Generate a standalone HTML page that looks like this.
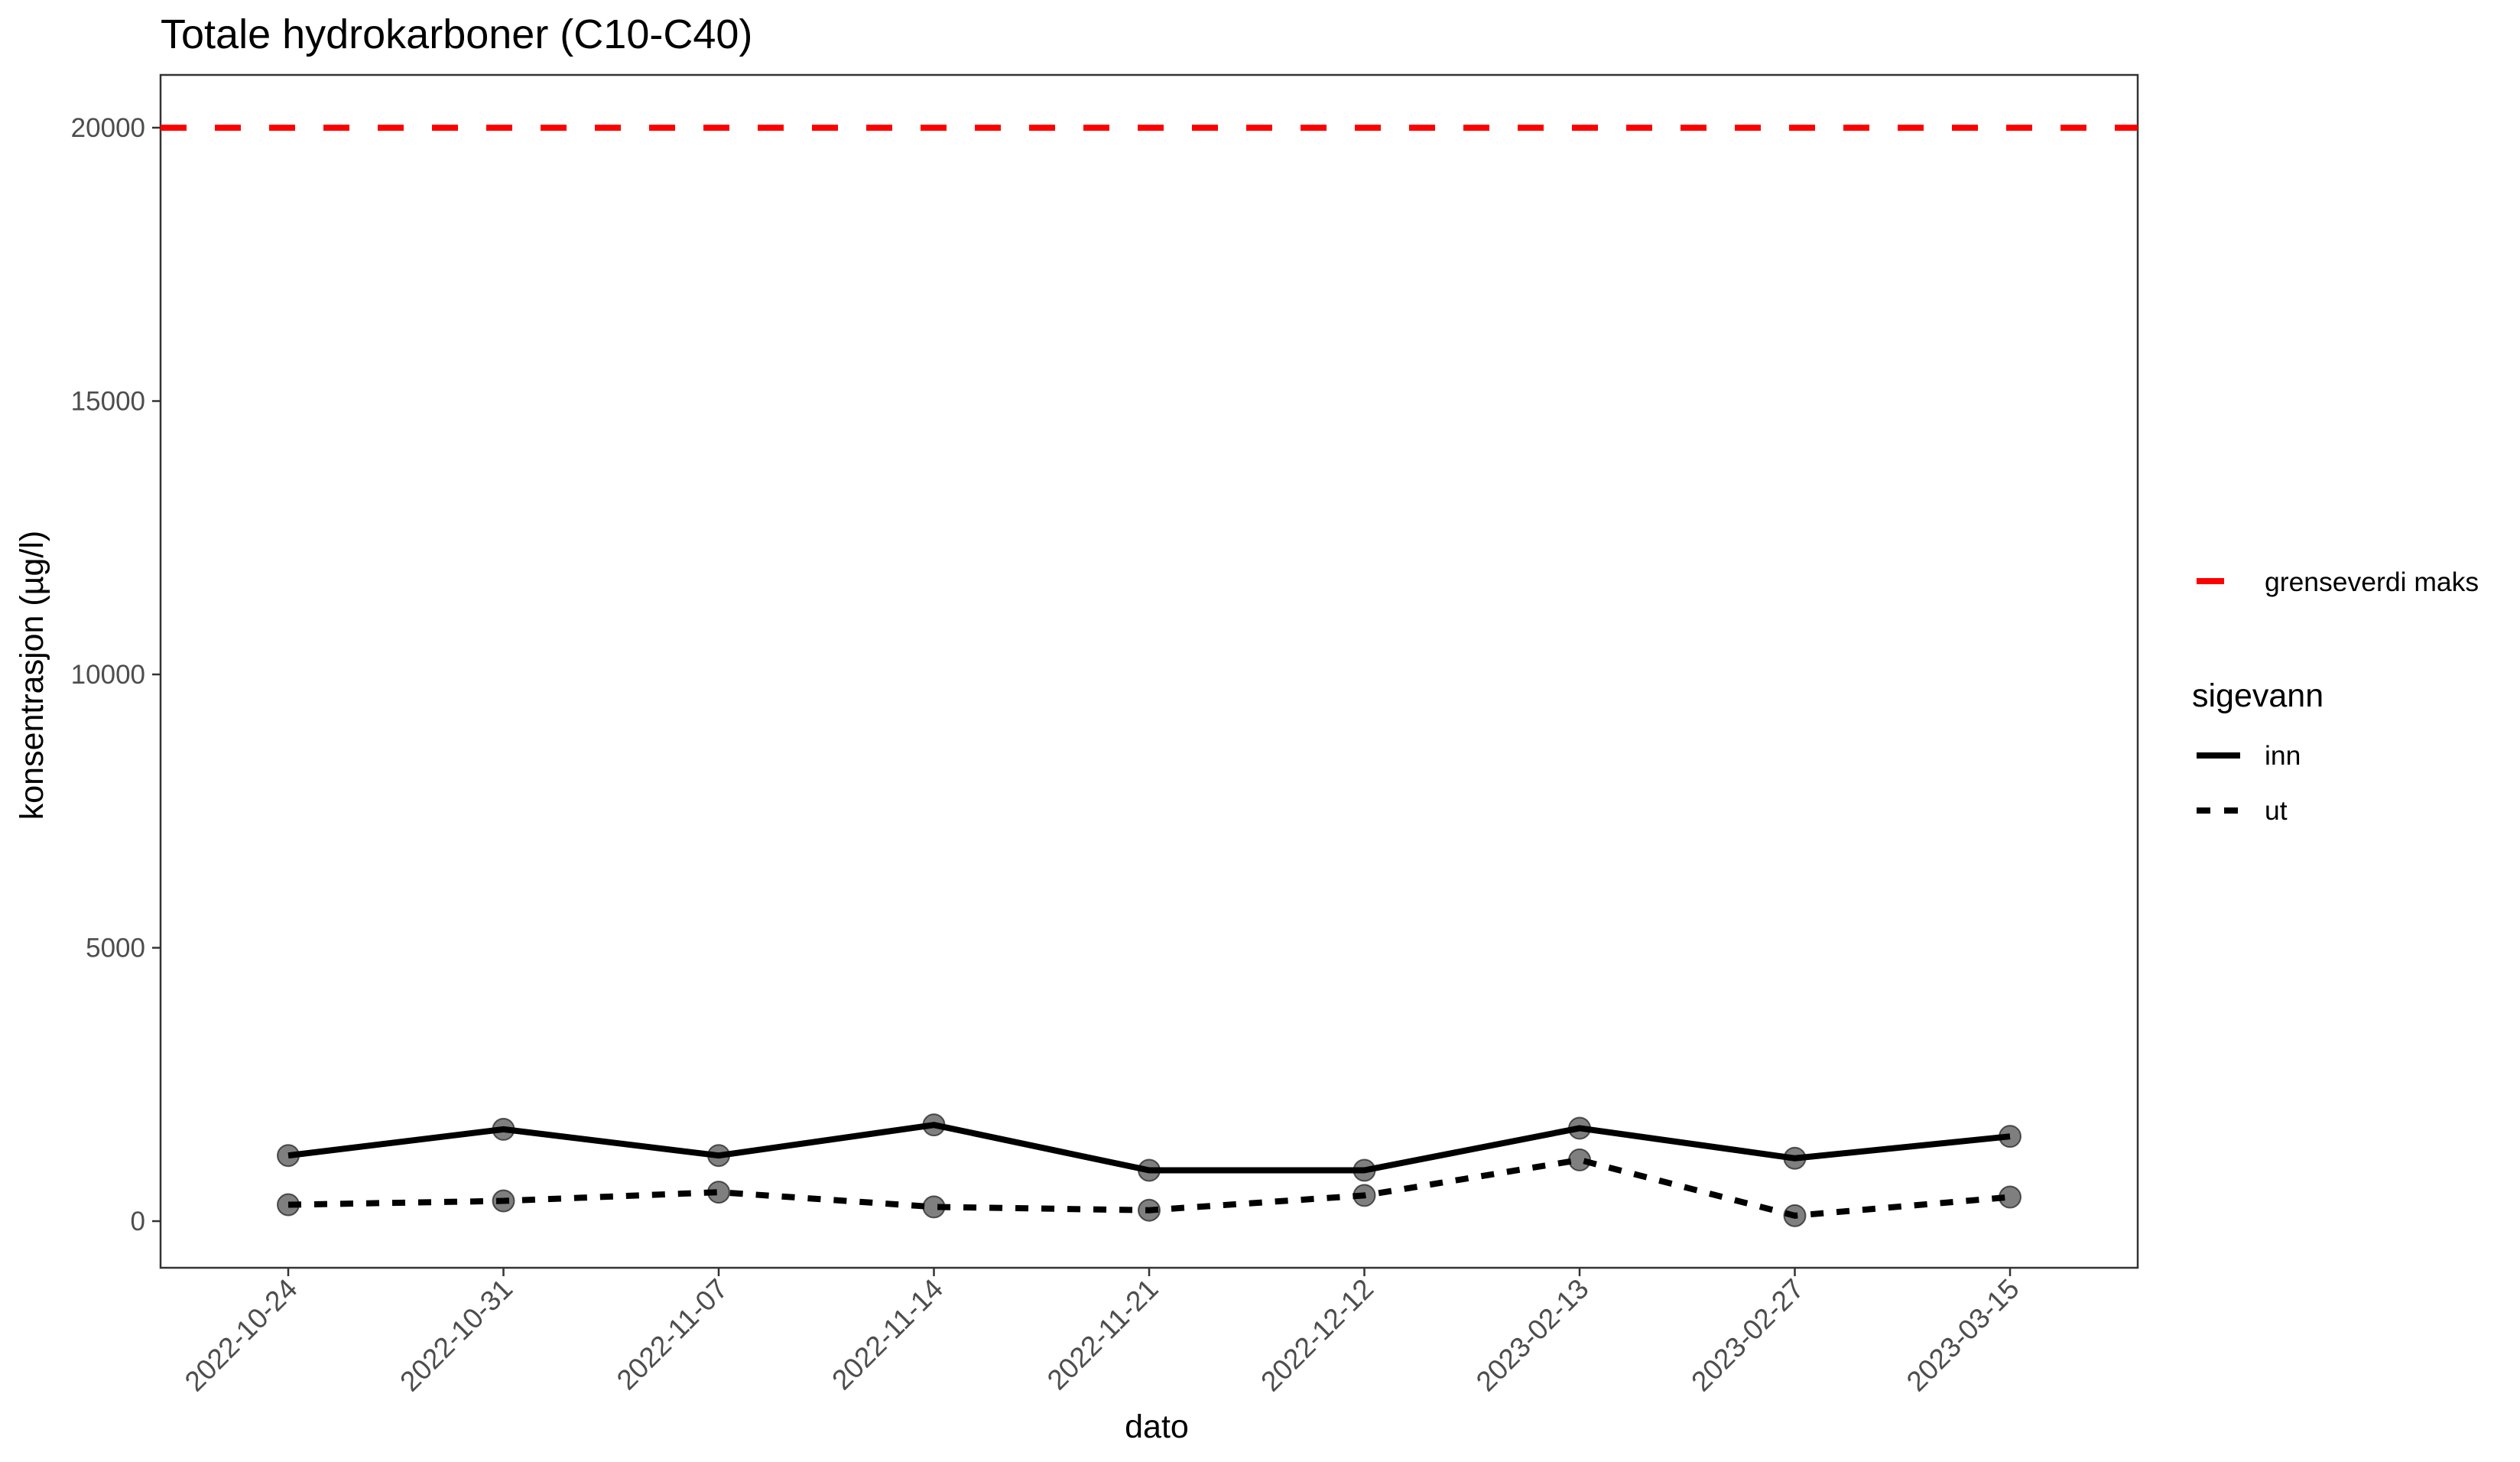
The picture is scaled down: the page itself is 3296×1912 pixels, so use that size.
<!DOCTYPE html>
<html><head><meta charset="utf-8"><style>body{margin:0;background:#fff}svg{display:block;font-family:"Liberation Sans",Arial,sans-serif}</style></head>
<body>
<svg id="chart" width="3296" height="1912" viewBox="0 0 3296 1912">
<text x="210" y="63" font-size="54" fill="#000">Totale hydrokarboner (C10-C40)</text>
<rect x="210" y="98" width="2586" height="1560" fill="#fff" stroke="#333" stroke-width="2.5"/>
<g id="yaxis"></g>
<g id="xaxis"></g>
<g id="series"></g>
<text x="1513" y="1880" font-size="43" text-anchor="middle" fill="#000">dato</text>
<text transform="translate(56,883) rotate(-90)" font-size="43" text-anchor="middle" fill="#000">konsentrasjon (µg/l)</text>
<g>
<line x1="2873" y1="760" x2="2909" y2="760" stroke="#f00" stroke-width="8"/>
<text x="2962" y="773" font-size="35.5" fill="#000">grenseverdi maks</text>
</g>
<g>
<text x="2867" y="924" font-size="43" fill="#000">sigevann</text>
<line x1="2873" y1="988" x2="2930" y2="988" stroke="#000" stroke-width="8"/>
<text x="2962" y="1000" font-size="35.5" fill="#000">inn</text>
<line x1="2873" y1="1060" x2="2930" y2="1060" stroke="#000" stroke-width="8" stroke-dasharray="18 18"/>
<text x="2962" y="1072" font-size="35.5" fill="#000">ut</text>
</g>
</svg>
<script>
const categories=["2022-10-24","2022-10-31","2022-11-07","2022-11-14","2022-11-21","2022-12-12","2023-02-13","2023-02-27","2023-03-15"];
const innValues=[1200,1680,1200,1760,930,930,1700,1150,1550];
const utValues=[300,370,530,260,200,470,1120,100,440];
const yTicks=[0,5000,10000,15000,20000];
const limitValue=20000;
const NS="http://www.w3.org/2000/svg";
function xs(i){return 377+i*281.5;}
function ys(v){return 1597-v*(1430/20000);}
function mk(tag,attrs,parent){const e=document.createElementNS(NS,tag);for(const k in attrs)e.setAttribute(k,attrs[k]);parent.appendChild(e);return e;}
const ya=document.getElementById('yaxis'),xa=document.getElementById('xaxis'),sg=document.getElementById('series');
yTicks.forEach(t=>{
 const l=mk('line',{x1:199,x2:210,y1:ys(t),y2:ys(t),stroke:'#333','stroke-width':2.5},ya);
 
 
 const tx=mk('text',{x:190,y:ys(t)+12,'font-size':35,'text-anchor':'end',fill:'#4d4d4d'},ya);
 tx.textContent=t;
 
 
});
categories.forEach((c,i)=>{
 const l=mk('line',{x1:xs(i),x2:xs(i),y1:1658,y2:1669,stroke:'#333','stroke-width':2.5},xa);
 
 
 const tx=mk('text',{transform:`translate(${xs(i)+14},${1688}) rotate(-45)`,'font-size':37,'text-anchor':'end',fill:'#4d4d4d'},xa);
 tx.textContent=c;
 
 
});
const lim=mk('line',{x1:210,x2:2796,y1:ys(limitValue),y2:ys(limitValue),stroke:'#f00','stroke-width':8,'stroke-dasharray':'34 37'},sg);


function series(vals,name,dash){
 const p=mk('polyline',{points:vals.map((v,i)=>xs(i)+','+ys(v)).join(' '),fill:'none',stroke:'#000','stroke-width':8,'stroke-linejoin':'round'},sg);
 if(dash)p.setAttribute('stroke-dasharray',dash);
 
 
}
function points(vals,name){
 vals.forEach((v,i)=>{
  const c=mk('circle',{cx:xs(i),cy:ys(v),r:14,fill:'rgba(0,0,0,0.5)',stroke:'rgba(0,0,0,0.6)','stroke-width':2},sg);
  
  
 });
}
points(innValues,'inn');points(utValues,'ut');
series(innValues,'inn',null);series(utValues,'ut','17 17');
</script>
</body></html>
